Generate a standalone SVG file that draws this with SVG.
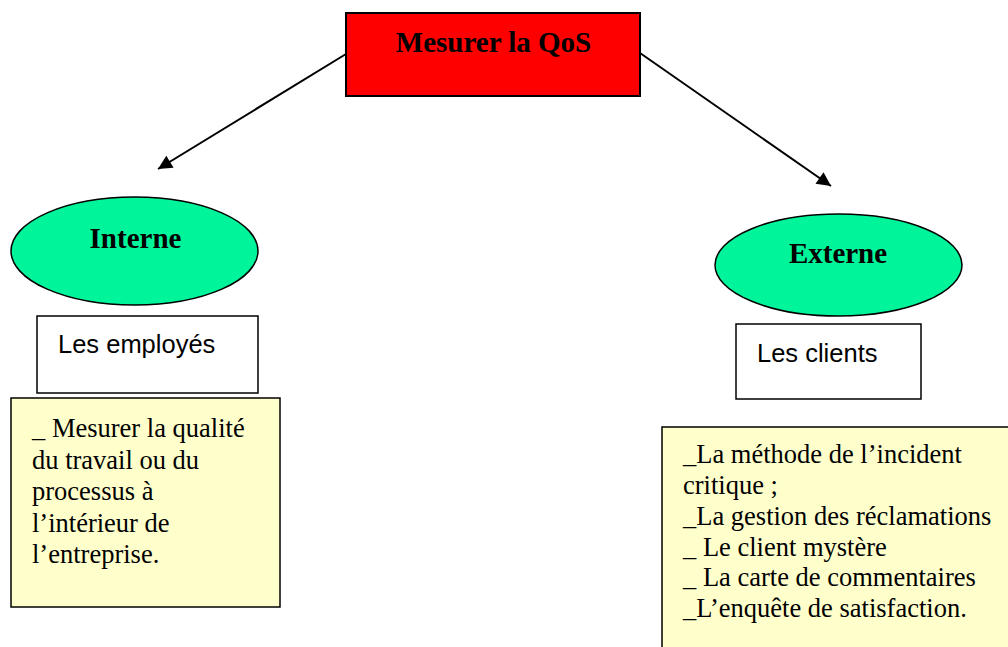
<svg xmlns="http://www.w3.org/2000/svg" width="1008" height="647" viewBox="0 0 1008 647">
  <style>
    .title { font-family: "Liberation Serif", "Times New Roman", serif; font-weight: bold; font-size: 29px; fill: #000; }
    .label { font-family: "Liberation Sans", Arial, sans-serif; font-size: 25.5px; fill: #000; }
    .body { font-family: "Liberation Serif", "Times New Roman", serif; font-size: 26.5px; fill: #000; }
    .ellipse { fill: #00F59B; stroke: #000; stroke-width: 1.5; }
    .plain { fill: #fff; stroke: #000; stroke-width: 1.5; }
    .note { fill: #FFFFCC; stroke: #000; stroke-width: 1.5; }
    .conn { stroke: #000; stroke-width: 2; fill: none; marker-end: url(#arrow); }
  </style>
  <defs>
    <marker id="arrow" viewBox="0 0 10 10" refX="10" refY="5" markerWidth="8" markerHeight="7" markerUnits="strokeWidth" orient="auto">
      <path d="M0,0 L10,5 L0,10 z" fill="#000"/>
    </marker>
  </defs>
  <rect width="1008" height="647" fill="#fff"/>

  <g id="connectors">
    <line class="conn" x1="346" y1="54" x2="158" y2="169"/>
    <line class="conn" x1="640" y1="53" x2="831" y2="186"/>
  </g>

  <g id="root">
    <rect x="346" y="13" width="294" height="83" fill="#FF0000" stroke="#000" stroke-width="2"/>
    <text class="title" x="493.5" y="52" text-anchor="middle">Mesurer la QoS</text>
  </g>

  <g id="interne">
    <ellipse class="ellipse" cx="134.5" cy="251" rx="123.5" ry="54"/>
    <text class="title" x="135.5" y="248" text-anchor="middle">Interne</text>
  </g>

  <g id="employes">
    <rect class="plain" x="37" y="316" width="221" height="77"/>
    <text class="label" x="58" y="353">Les employés</text>
  </g>

  <g id="interne-detail">
    <rect class="note" x="11" y="398" width="269" height="209"/>
    <text class="body" x="32">
      <tspan x="32" y="437">_ Mesurer la qualité</tspan>
      <tspan x="32" y="468.5">du travail ou du</tspan>
      <tspan x="32" y="500">processus à</tspan>
      <tspan x="32" y="531.5">l’intérieur de</tspan>
      <tspan x="32" y="563">l’entreprise.</tspan>
    </text>
  </g>

  <g id="externe">
    <ellipse class="ellipse" cx="838.5" cy="265" rx="123.5" ry="51"/>
    <text class="title" x="838" y="263" text-anchor="middle">Externe</text>
  </g>

  <g id="clients">
    <rect class="plain" x="736" y="324" width="185" height="75"/>
    <text class="label" x="757" y="362">Les clients</text>
  </g>

  <g id="externe-detail">
    <rect class="note" x="662" y="427" width="360" height="240"/>
    <text class="body">
      <tspan x="683" y="463">_La méthode de l’incident</tspan>
      <tspan x="683" y="494">critique ;</tspan>
      <tspan x="683" y="525">_La gestion des réclamations</tspan>
      <tspan x="683" y="555.5">_ Le client mystère</tspan>
      <tspan x="683" y="586">_ La carte de commentaires</tspan>
      <tspan x="683" y="617">_L’enquête de satisfaction.</tspan>
    </text>
  </g>
</svg>
